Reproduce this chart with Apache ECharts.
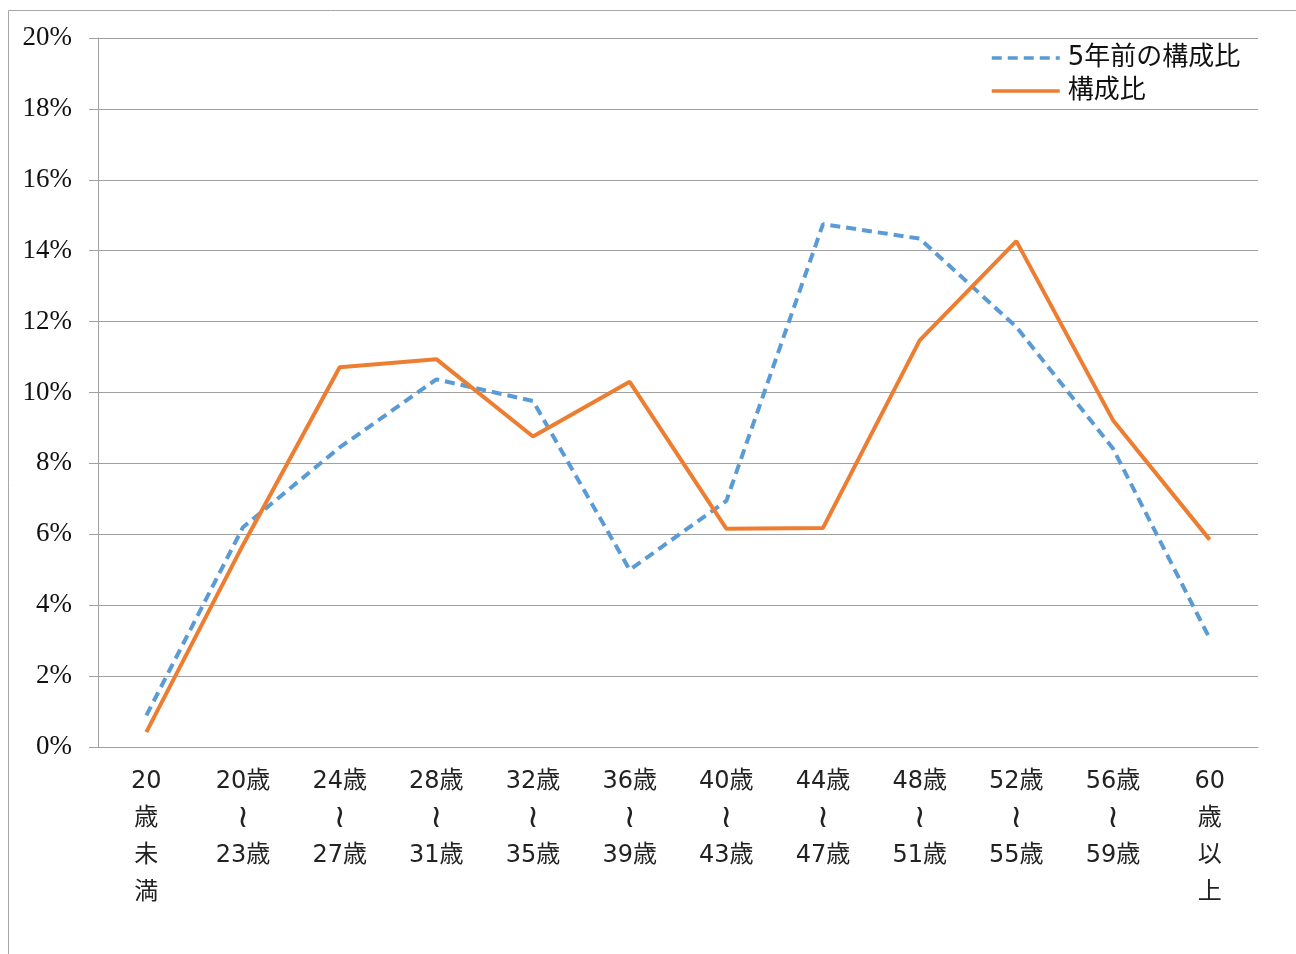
<!DOCTYPE html>
<html>
<head>
<meta charset="utf-8">
<script src="https://cdn.jsdelivr.net/npm/echarts@6/dist/echarts.min.js"></script>
<style>
  html, body { margin: 0; padding: 0; background: #fff; }
  #chart { width: 1296px; height: 954px; }
</style>
</head>
<body>
<div id="chart"></div>
<script>
// Age brackets (vertical labels, one glyph or number per line; {w|...} is the wave dash)
const categories = [
  '20\n歳\n未\n満',
  '20歳\n{w|≀}\n23歳',
  '24歳\n{w|≀}\n27歳',
  '28歳\n{w|≀}\n31歳',
  '32歳\n{w|≀}\n35歳',
  '36歳\n{w|≀}\n39歳',
  '40歳\n{w|≀}\n43歳',
  '44歳\n{w|≀}\n47歳',
  '48歳\n{w|≀}\n51歳',
  '52歳\n{w|≀}\n55歳',
  '56歳\n{w|≀}\n59歳',
  '60\n歳\n以\n上'
];

// Composition ratio (%) five years ago
const prevRatio = [0.89, 6.2, 8.45, 10.37, 9.76, 5.0, 6.94, 14.75, 14.34, 11.85, 8.42, 3.06];
// Current composition ratio (%)
const currRatio = [0.42, 5.7, 10.71, 10.94, 8.76, 10.3, 6.16, 6.18, 11.47, 14.27, 9.22, 5.85];

const seriesNames = ['5年前の構成比', '構成比'];
const yMin = 0, yMax = 20, yStep = 2;

const chart = echarts.init(document.getElementById('chart'), null, { renderer: 'canvas' });

chart.setOption({
  backgroundColor: '#ffffff',
  animation: false,
  graphic: [{
    type: 'rect',
    shape: { x: 8.5, y: 10.5, width: 1400, height: 1100 },
    style: { fill: 'none', stroke: '#a6a6a6', lineWidth: 1 },
    silent: true
  }],
  grid: { left: 98, right: 38, top: 38, bottom: 207, containLabel: false },
  legend: {
    orient: 'vertical',
    left: 985,
    top: 40,
    itemWidth: 68,
    itemHeight: 14,
    itemGap: 7,
    itemStyle: { opacity: 0 },
    lineStyle: { width: 3.5 },
    textStyle: { fontFamily: "'DejaVu Sans', 'Noto Sans CJK JP'", fontSize: 26, color: '#111', padding: [0, 0, 0, 3] },
    data: seriesNames
  },
  xAxis: {
    type: 'category',
    data: categories,
    boundaryGap: true,
    axisLine: { show: true, lineStyle: { color: '#a0a0a0', width: 1 } },
    axisTick: { show: false },
    axisLabel: {
      interval: 0,
      margin: 16,
      fontFamily: "'DejaVu Sans', 'Noto Sans CJK JP'",
      fontSize: 24,
      lineHeight: 37,
      color: '#222',
      align: 'center',
      rich: {
        w: { fontFamily: 'DejaVu Sans', fontSize: 32, lineHeight: 37, color: '#222' }
      }
    }
  },
  yAxis: {
    type: 'value',
    min: yMin,
    max: yMax,
    interval: yStep,
    axisLine: { show: true, lineStyle: { color: '#a0a0a0', width: 1 } },
    axisTick: { show: true, length: 9, lineStyle: { color: '#a0a0a0' } },
    splitLine: { show: true, lineStyle: { color: '#a0a0a0', width: 1 } },
    axisLabel: {
      formatter: '{value}%',
      margin: 26,
      fontFamily: 'Liberation Serif',
      fontSize: 27,
      color: '#111'
    }
  },
  series: [
    {
      name: seriesNames[0],
      type: 'line',
      data: prevRatio,
      symbol: 'none',
      lineStyle: { color: '#5b9bd5', width: 4, type: [10, 6] },
      itemStyle: { color: '#5b9bd5' }
    },
    {
      name: seriesNames[1],
      type: 'line',
      data: currRatio,
      symbol: 'none',
      lineStyle: { color: '#ed7d31', width: 4, type: 'solid' },
      itemStyle: { color: '#ed7d31' }
    }
  ]
});
</script>
</body>
</html>
